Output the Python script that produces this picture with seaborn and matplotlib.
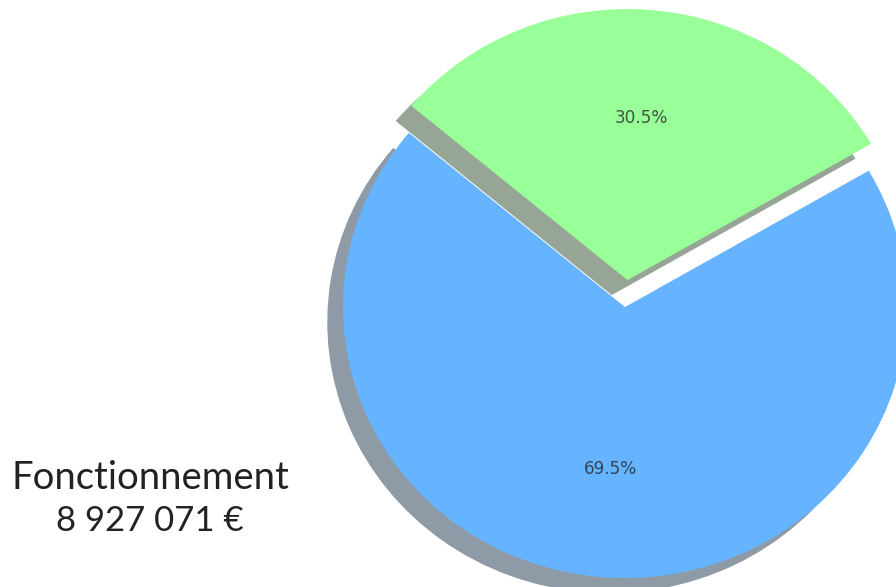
import matplotlib
matplotlib.use("Agg")
import matplotlib.pyplot as plt
import seaborn as sns

# Data
categories = ["Fonctionnement", "Investissement"]
shares = [69.5, 30.5]
explode_vals = [0.0, 0.1]
slice_colors = ["#66b3ff", "#99ff99"]
label_title = "Fonctionnement"
label_amount = "8 927 071 €"

sns.set_theme(style="white")
plt.rcParams["font.family"] = ["DejaVu Sans"]

fig = plt.figure(figsize=(8.96, 5.87), dpi=100)
ax = fig.add_axes([0, 0, 1, 1])

wedges, texts, autotexts = ax.pie(
    shares,
    explode=explode_vals,
    colors=slice_colors,
    autopct="%1.1f%%",
    startangle=140,
    shadow={"ox": -0.04, "oy": -0.04, "linewidth": 0},
    wedgeprops={"linewidth": 0, "edgecolor": "none"},
    textprops={"fontsize": 12.2, "color": "#1f1f1f", "alpha": 0.75},
)

ax.set_aspect("auto")
ax.set_xlim(-2.216, 0.961)
ax.set_ylim(-1.033, 1.133)
ax.axis("off")

fig.text(150 / 896, 1 - 478 / 587, label_title, ha="center", va="center",
         fontsize=27.5, fontweight="normal", family=["Lato", "DejaVu Sans"],
         color="#222222")
fig.text(150 / 896, 1 - 521 / 587, label_amount, ha="center", va="center",
         fontsize=25, fontweight="normal", family=["Lato", "DejaVu Sans"],
         color="#222222")

fig.savefig("out.png", dpi=100, facecolor="white")
